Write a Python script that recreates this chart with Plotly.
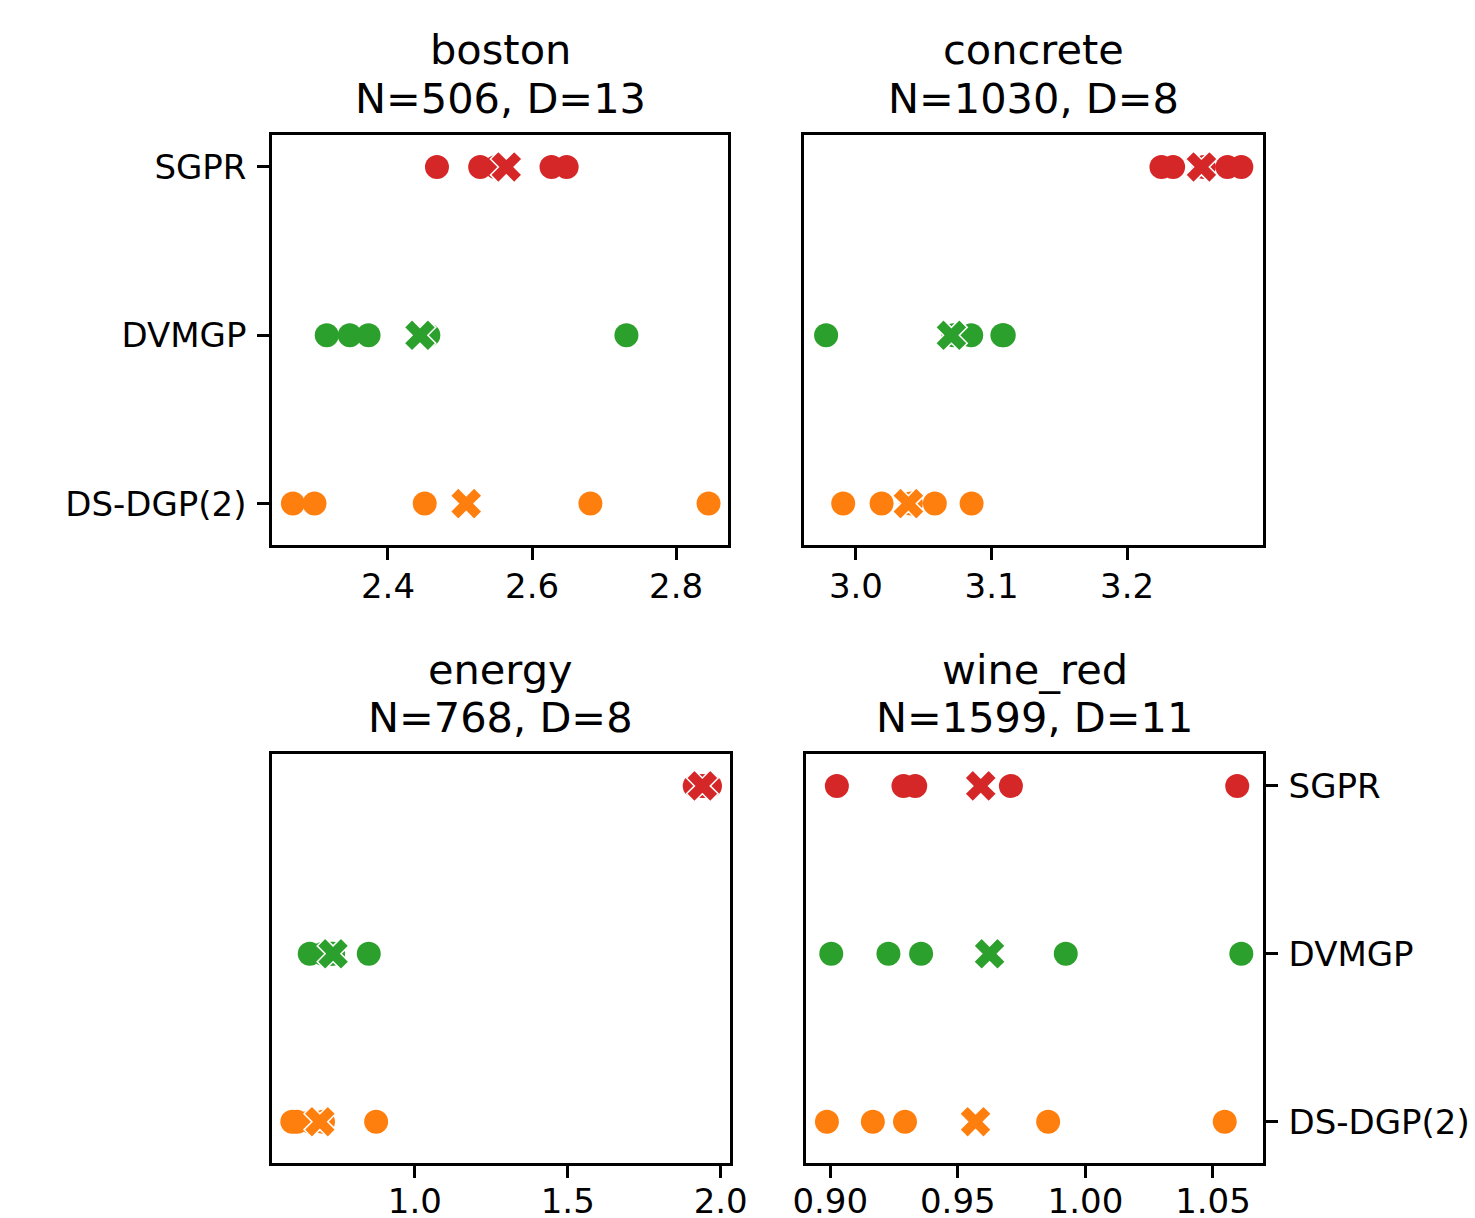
import numpy as np
import plotly.graph_objects as go

methods = ["DS-DGP(2)", "DVMGP", "SGPR"]
method_colors = {"SGPR": "#d62728", "DVMGP": "#2ca02c", "DS-DGP(2)": "#ff7f0e"}

datasets = ["boston", "concrete", "energy", "wine_red"]
subtitles = ["N=506, D=13", "N=1030, D=8", "N=768, D=8", "N=1599, D=11"]

# per-run results (5 splits)
boston_sgpr = [2.468, 2.528, 2.550, 2.627, 2.648]
boston_dvmgp = [2.315, 2.347, 2.373, 2.456, 2.731]
boston_dsdgp = [2.268, 2.298, 2.451, 2.681, 2.845]

concrete_sgpr = [3.2253, 3.2339, 3.2566, 3.274, 3.2842]
concrete_dvmgp = [2.978, 3.072, 3.085, 3.108, 3.109]
concrete_dsdgp = [2.9906, 3.0189, 3.0405, 3.0582, 3.0853]

energy_sgpr = [1.915, 1.925, 1.940, 1.955, 1.965]
energy_dvmgp = [0.6565, 0.700, 0.725, 0.733, 0.8495]
energy_dsdgp = [0.5995, 0.615, 0.660, 0.700, 0.8736]

wine_sgpr = [0.9026, 0.9287, 0.9333, 0.9708, 1.0595]
wine_dvmgp = [0.9004, 0.9228, 0.9356, 0.9923, 1.0611]
wine_dsdgp = [0.8987, 0.9167, 0.9293, 0.9854, 1.0546]

results = {
    "boston": {"SGPR": boston_sgpr, "DVMGP": boston_dvmgp, "DS-DGP(2)": boston_dsdgp},
    "concrete": {"SGPR": concrete_sgpr, "DVMGP": concrete_dvmgp, "DS-DGP(2)": concrete_dsdgp},
    "energy": {"SGPR": energy_sgpr, "DVMGP": energy_dvmgp, "DS-DGP(2)": energy_dsdgp},
    "wine_red": {"SGPR": wine_sgpr, "DVMGP": wine_dvmgp, "DS-DGP(2)": wine_dsdgp},
}

x_ranges = [[2.239, 2.872], [2.9617, 3.3002], [0.5332, 2.0304], [0.8905, 1.0696]]
x_tickvals = [[2.4, 2.6, 2.8], [3.0, 3.1, 3.2], [1.0, 1.5, 2.0], [0.90, 0.95, 1.00, 1.05]]
x_ticktext = [["2.4", "2.6", "2.8"], ["3.0", "3.1", "3.2"], ["1.0", "1.5", "2.0"],
              ["0.90", "0.95", "1.00", "1.05"]]

W, H = 1475, 1218
# panel boxes in pixels (left, right, top, bottom)
boxes = [(272, 728, 135, 545), (804, 1263, 135, 545), (272, 730, 754, 1163), (806, 1263, 754, 1163)]

FONT = "DejaVu Sans"
fig = go.Figure()
layout = dict(width=W, height=H, margin=dict(l=0, r=0, t=0, b=0, pad=0, autoexpand=False),
              paper_bgcolor="white", plot_bgcolor="white", showlegend=False,
              font=dict(family=FONT, size=34, color="black"))
annotations = []

for i, ds in enumerate(datasets):
    n = i + 1
    xa = "x" if n == 1 else f"x{n}"
    ya = "y" if n == 1 else f"y{n}"
    for m in methods:
        vals = results[ds][m]
        yv = methods.index(m)
        fig.add_trace(go.Scatter(x=vals, y=[yv] * len(vals), mode="markers", xaxis=xa, yaxis=ya,
                                 marker=dict(symbol="circle", size=24, color=method_colors[m],
                                             line=dict(width=0)), hoverinfo="x"))
    for m in methods:
        vals = results[ds][m]
        yv = methods.index(m)
        fig.add_trace(go.Scatter(x=[float(np.mean(vals))], y=[yv], mode="markers", xaxis=xa, yaxis=ya,
                                 marker=dict(symbol="x", size=28, color=method_colors[m],
                                             line=dict(width=1.5, color="white")), hoverinfo="x"))
    l, r, t, b = boxes[i]
    xkey = "xaxis" if n == 1 else f"xaxis{n}"
    ykey = "yaxis" if n == 1 else f"yaxis{n}"
    layout[xkey] = dict(domain=[l / W, r / W], anchor=ya, range=x_ranges[i],
                        tickvals=x_tickvals[i], ticktext=x_ticktext[i],
                        ticks="outside", ticklen=12, tickwidth=2.5, tickcolor="black",
                        showline=True, mirror=True, linecolor="black", linewidth=2.5,
                        showgrid=False, zeroline=False,
                        ticklabelstandoff=(-3 if n <= 2 else -6), automargin=False,
                        tickfont=dict(family=FONT, size=34, color="black"))
    ydict = dict(domain=[1 - b / H, 1 - t / H], anchor=xa, range=[-0.246, 2.19],
                 tickvals=[0, 1, 2], ticktext=methods, automargin=False,
                 showline=True, mirror=True, linecolor="black", linewidth=2.5,
                 showgrid=False, zeroline=False,
                 tickfont=dict(family=FONT, size=34, color="black"))
    if n == 1:
        ydict.update(ticks="outside", ticklen=12, tickwidth=2.5, tickcolor="black",
                     showticklabels=True, side="left", ticklabelstandoff=4)
    elif n == 4:
        ydict.update(ticks="outside", ticklen=12, tickwidth=2.5, tickcolor="black",
                     showticklabels=True, side="right", ticklabelstandoff=4)
    else:
        ydict.update(ticks="", showticklabels=False)
    layout[ykey] = ydict

    cx = (l + r) / 2 / W
    annotations.append(dict(text=ds, x=cx, y=1 - (t - 85) / H, xref="paper", yref="paper",
                            xanchor="center", yanchor="middle", showarrow=False,
                            font=dict(family=FONT, size=41.5, color="black")))
    annotations.append(dict(text=subtitles[i], x=cx, y=1 - (t - 37) / H, xref="paper", yref="paper",
                            xanchor="center", yanchor="middle", showarrow=False,
                            font=dict(family=FONT, size=41.5, color="black")))

layout["annotations"] = annotations
fig.update_layout(**layout)
fig.write_html("out.html")
